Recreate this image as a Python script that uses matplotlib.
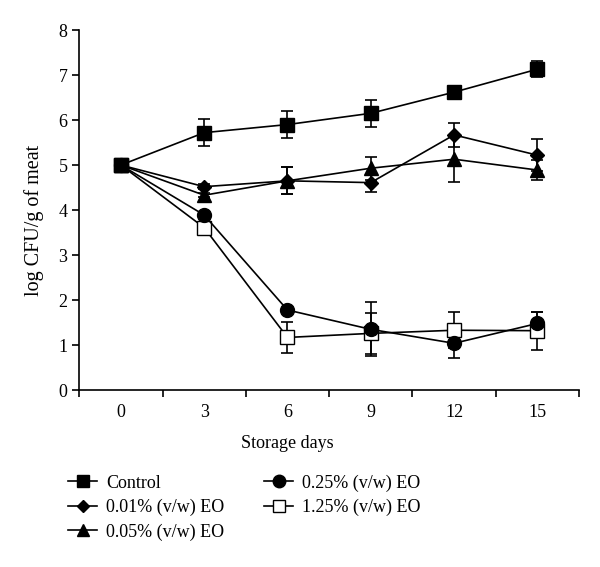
import numpy as np
import matplotlib.pyplot as plt

plt.rcParams['font.family'] = ['Liberation Serif', 'DejaVu Serif']
plt.rcParams['font.size'] = 13

days = ["0", "3", "6", "9", "12", "15"]

control = [5.0, 5.72, 5.90, 6.15, 6.62, 7.13]
control_err = [0, 0.30, 0.30, 0.30, 0.05, 0.18]
eo001 = [5.0, 4.52, 4.65, 4.61, 5.67, 5.22]
eo001_err = [0, 0.05, 0.30, 0.20, 0.26, 0.35]
eo005 = [5.0, 4.33, 4.65, 4.93, 5.13, 4.89]
eo005_err = [0, 0.05, 0.30, 0.26, 0.50, 0.22]
eo025 = [5.0, 3.89, 1.78, 1.35, 1.04, 1.48]
eo025_err = [0, 0.05, 0.05, 0.60, 0.32, 0.25]
eo125 = [5.0, 3.61, 1.17, 1.26, 1.33, 1.32]
eo125_err = [0, 0.10, 0.35, 0.45, 0.40, 0.42]

series = [
    ("1.25% (v/w) EO", eo125, eo125_err, "s", "white", 10),
    ("0.25% (v/w) EO", eo025, eo025_err, "o", "black", 10),
    ("0.05% (v/w) EO", eo005, eo005_err, "^", "black", 10),
    ("0.01% (v/w) EO", eo001, eo001_err, "D", "black", 7),
    ("Control", control, control_err, "s", "black", 9.5),
]

fig = plt.figure(figsize=(6, 5.67), dpi=100)
ax = fig.add_axes([0.132, 0.312, 0.833, 0.635])

x = np.arange(len(days))
handles = {}
for label, y, err, marker, face, ms in series:
    ax.errorbar(x, y, yerr=err, fmt="none", ecolor="black", elinewidth=1.2,
                capsize=4, capthick=1.2, zorder=2)
    line, = ax.plot(x, y, color="black", lw=1.2, marker=marker, ms=ms,
                    markerfacecolor=face, markeredgecolor="black",
                    markeredgewidth=1.0, label=label, zorder=3)
    handles[label] = line

ax.set_xlim(-0.5, len(days) - 0.5)
ax.set_ylim(0, 8)
ax.set_yticks(range(0, 9))
ax.set_xticks(np.arange(-0.5, len(days), 1.0))
ax.set_xticklabels([])
ax.set_xticks(x, minor=True)
ax.set_xticklabels(days, minor=True)
ax.tick_params(axis="x", which="minor", length=0, pad=10)
ax.tick_params(axis="both", which="major", direction="out", length=5, width=1.2)
for s in ["top", "right"]:
    ax.spines[s].set_visible(False)
for s in ["left", "bottom"]:
    ax.spines[s].set_linewidth(1.2)

ax.set_ylabel("log CFU/g of meat", fontsize=14.5)
ax.yaxis.set_label_coords(-0.07, 0.472)
fig.text(287 / 600, 1 - 443 / 567, "Storage days", ha="center", va="center")

order = ["Control", "0.01% (v/w) EO", "0.05% (v/w) EO",
         "0.25% (v/w) EO", "1.25% (v/w) EO"]
fig.legend([handles[k] for k in order], order, ncol=2, frameon=False,
           loc="upper left", bbox_to_anchor=(52 / 600, 1 - 458 / 567),
           handlelength=1.6, handletextpad=0.5, labelspacing=0.4,
           columnspacing=2.2, markerscale=0.9)

fig.savefig("out.png", dpi=100)
